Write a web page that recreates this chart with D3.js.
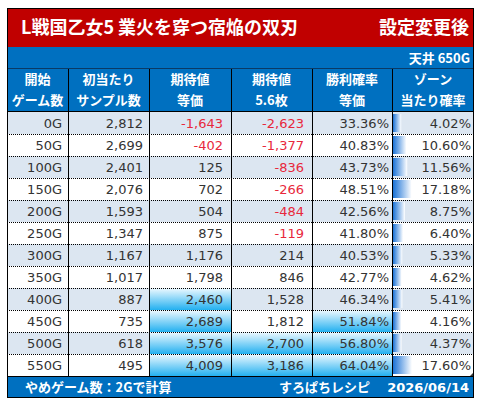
<!DOCTYPE html>
<html>
<head>
<meta charset="utf-8">
<script src="https://cdn.jsdelivr.net/npm/d3@7"></script>
<style>
  body { margin: 0; background: #fff; }
  svg { display: block; }
</style>
</head>
<body>
<div id="container"></div>
<script>
// table data
const games = ['0G', '50G', '100G', '150G', '200G', '250G', '300G', '350G', '400G', '450G', '500G', '550G']
const samples = [2812, 2699, 2401, 2076, 1593, 1347, 1167, 1017, 887, 735, 618, 495]
const evFlat = [-1643, -402, 125, 702, 504, 875, 1176, 1798, 2460, 2689, 3576, 4009]
const ev56 = [-2623, -1377, -836, -266, -484, -119, 214, 846, 1528, 1812, 2700, 3186]
const winRate = [33.36, 40.83, 43.73, 48.51, 42.56, 41.80, 40.53, 42.77, 46.34, 51.84, 56.80, 64.04]
const zoneRate = [4.02, 10.60, 11.56, 17.18, 8.75, 6.40, 5.33, 4.62, 5.41, 4.16, 4.37, 17.60]

const headers = [
    ['開始', 'ゲーム数'],
    ['初当たり', 'サンプル数'],
    ['期待値', '等価'],
    ['期待値', '5.6枚'],
    ['勝利確率', '等価'],
    ['ゾーン', '当たり確率']
]

const title = 'L戦国乙女5 業火を穿つ宿焔の双刃'
const subTitle = '設定変更後'
const ceiling = '天井 650G'
const footLeft = 'やめゲーム数：2Gで計算'
const footSite = 'すろぱちレシピ'
const footDate = '2026/06/14'

const width = 481
const height = 407
const left = 7, right = 474
const colWidths = [61, 81, 82, 81, 80, 82]
const colEdges = [left, ...d3.cumsum(colWidths).map(d => d + left)]

const jp = "'Noto Sans CJK JP', 'Noto Sans', sans-serif"
const num = "'DejaVu Sans', Verdana, sans-serif"
const red = '#c00000'
const blue = '#0070c0'
const stripe = '#dce6f1'

// plain hyphen for negatives, like the sheet
const fmt = d3.formatLocale({ decimal: '.', thousands: ',', grouping: [3], currency: ['', ''], minus: '-' }).format(',')

const svg = d3.select('#container').append('svg')
    .attr('width', width).attr('height', height)

const defs = svg.append('defs')
const cellGrad = defs.append('linearGradient').attr('id', 'cellGrad')
    .attr('x1', 0).attr('y1', 0).attr('x2', 0).attr('y2', 1)
cellGrad.append('stop').attr('offset', '0%').attr('stop-color', '#f0faff')
cellGrad.append('stop').attr('offset', '100%').attr('stop-color', '#22b0f0')

const barGrad = defs.append('linearGradient').attr('id', 'barGrad')
    .attr('x1', 0).attr('y1', 0).attr('x2', 1).attr('y2', 0)
barGrad.append('stop').attr('offset', '0%').attr('stop-color', '#1a72d6')
barGrad.append('stop').attr('offset', '100%').attr('stop-color', '#ffffff')

const yScale = d3.scaleBand().domain(games).range([112, 376])
const rowH = yScale.bandwidth()

// title bar
svg.append('rect').attr('x', left).attr('y', 8).attr('width', right - left).attr('height', 39).attr('fill', red)
svg.append('text').attr('x', 21).attr('y', 28).attr('dy', '0.36em')
    .attr('fill', '#fff').style('font', `bold 18px ${jp}`).text(title)
svg.append('text').attr('x', 469).attr('y', 28).attr('dy', '0.36em').attr('text-anchor', 'end')
    .attr('fill', '#fff').style('font', `bold 18px ${jp}`).text(subTitle)

// ceiling row + header
svg.append('rect').attr('x', left).attr('y', 47).attr('width', right - left).attr('height', 65).attr('fill', blue)
svg.append('text').attr('x', 470).attr('y', 58).attr('dy', '0.36em').attr('text-anchor', 'end')
    .attr('fill', '#fff').style('font', `bold 13px ${jp}`).text(ceiling)

const head = svg.append('g')
headers.forEach((h, i) => {
    const cx = (colEdges[i] + colEdges[i + 1]) / 2
    h.forEach((t, j) => {
        head.append('text').attr('x', cx).attr('y', 79 + j * 21).attr('dy', '0.36em')
            .attr('text-anchor', 'middle').attr('fill', '#fff')
            .style('font', `bold 13px ${jp}`).text(t)
    })
})

// rows
const rows = games.map((g, i) => ({
    game: g,
    cells: [
        { text: g, pad: 6 },
        { text: fmt(samples[i]), pad: 6 },
        { text: fmt(evFlat[i]), pad: 8, neg: evFlat[i] < 0, hi: evFlat[i] >= 2000 },
        { text: fmt(ev56[i]), pad: 8, neg: ev56[i] < 0, hi: ev56[i] >= 2000 },
        { text: winRate[i].toFixed(2) + '%', pad: 3, hi: winRate[i] >= 50 },
        { text: zoneRate[i].toFixed(2) + '%', pad: 3, bar: zoneRate[i] }
    ]
}))

const barX = d3.scaleLinear().domain([0, d3.max(zoneRate)]).range([5, 19])

const rowG = svg.append('g').selectAll('g')
    .data(rows)
    .enter()
    .append('g')
    .attr('transform', d => `translate(0, ${yScale(d.game)})`)

rowG.append('rect')
    .attr('x', left).attr('width', right - left).attr('height', rowH)
    .attr('fill', (d, i) => i % 2 === 0 ? stripe : '#fff')

rowG.each(function (d) {
    const g = d3.select(this)
    d.cells.forEach((c, i) => {
        if (c.hi) {
            g.append('rect').attr('x', colEdges[i]).attr('y', 0)
                .attr('width', colWidths[i]).attr('height', rowH)
                .attr('fill', 'url(#cellGrad)')
        }
        if (c.bar !== undefined) {
            g.append('rect').attr('x', colEdges[i] + 1).attr('y', 2)
                .attr('width', barX(c.bar)).attr('height', rowH - 4)
                .attr('fill', 'url(#barGrad)')
        }
        g.append('text')
            .attr('x', colEdges[i + 1] - c.pad)
            .attr('y', rowH / 2 + 0.5)
            .attr('dy', '0.36em')
            .attr('text-anchor', 'end')
            .attr('fill', c.neg ? '#e8283c' : '#333')
            .style('font', `13px ${num}`)
            .text(c.text)
    })
})

// dotted row lines
svg.append('g').selectAll('line')
    .data(games.slice(1))
    .enter()
    .append('line')
    .attr('x1', left).attr('x2', right)
    .attr('y1', d => yScale(d) + 0.5).attr('y2', d => yScale(d) + 0.5)
    .attr('stroke', '#000').attr('stroke-width', 1).attr('stroke-dasharray', '1,1')

// column lines
svg.append('g').selectAll('line')
    .data(colEdges.slice(1, -1))
    .enter()
    .append('line')
    .attr('x1', d => d + 0.5).attr('x2', d => d + 0.5)
    .attr('y1', 68).attr('y2', 376)
    .attr('stroke', '#000').attr('stroke-width', 1)

svg.append('line').attr('x1', left).attr('x2', right).attr('y1', 68.5).attr('y2', 68.5)
    .attr('stroke', '#0a3a66')
svg.append('line').attr('x1', left).attr('x2', right).attr('y1', 111.5).attr('y2', 111.5)
    .attr('stroke', '#000')

// small marker at corner of last cell
svg.append('path')
    .attr('d', `M${right - 4},${376} L${right},${376} L${right},${372} Z`)
    .attr('fill', '#333')

// footer
svg.append('rect').attr('x', left).attr('y', 376).attr('width', right - left).attr('height', 22).attr('fill', blue)
svg.append('line').attr('x1', left).attr('x2', right).attr('y1', 376.5).attr('y2', 376.5).attr('stroke', '#000')
svg.append('text').attr('x', 25).attr('y', 387).attr('dy', '0.36em')
    .attr('fill', '#fff').style('font', `bold 13px ${jp}`).text(footLeft)
svg.append('text').attr('x', 370).attr('y', 387).attr('dy', '0.36em').attr('text-anchor', 'end')
    .attr('fill', '#fff').style('font', `bold 13px ${jp}`).text(footSite)
svg.append('text').attr('x', 469).attr('y', 387).attr('dy', '0.36em').attr('text-anchor', 'end')
    .attr('fill', '#fff').style('font', `bold 13px ${num}`).text(footDate)

// outer border
svg.append('rect').attr('x', left + 0.5).attr('y', 8.5)
    .attr('width', right - left - 1).attr('height', 390 - 1)
    .attr('fill', 'none').attr('stroke', '#000')
</script>
</body>
</html>
